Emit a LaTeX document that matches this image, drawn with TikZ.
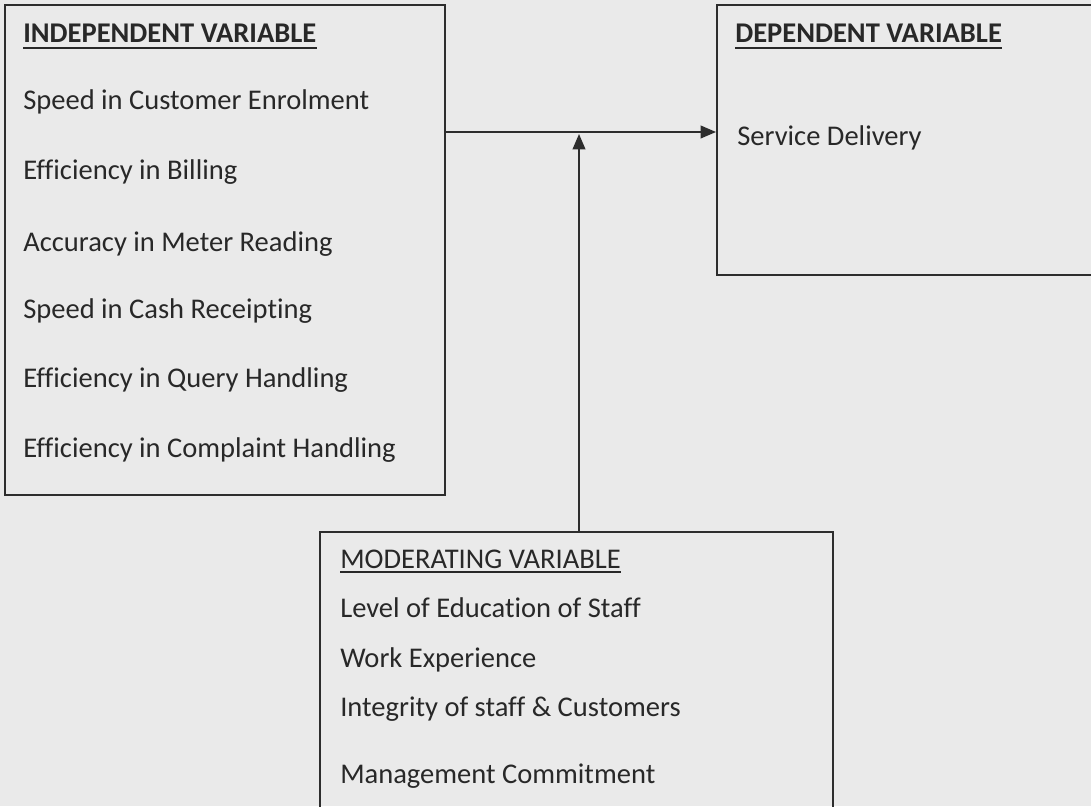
\documentclass[tikz,border=0pt]{standalone}
\usepackage{fontspec}
\setmainfont{Carlito}[Ligatures=NoCommon]
\usetikzlibrary{arrows.meta}
\definecolor{pagebg}{RGB}{234,234,234}
\definecolor{ink}{RGB}{40,40,40}
\definecolor{rule}{RGB}{45,45,45}
\begin{document}
\begin{tikzpicture}[x=0.75pt,y=-0.75pt,
  box/.style={draw=rule,line width=1.4pt,rectangle,inner sep=0pt,anchor=north west},
  item/.style={inner sep=0pt,anchor=base west,text=ink,font=\fontsize{21.4}{24}\selectfont},
  heading/.style={item,font=\fontsize{21.4}{24}\selectfont\bfseries},
  uline/.style={draw=ink,line width=1.2pt},
  conn/.style={draw=rule,line width=1.3pt,-{Triangle[length=11.5pt,width=9.5pt]}}]
  % page and frame
  \fill[pagebg] (0,0) rectangle (1091,806);
  \useasboundingbox (0,0) rectangle (1091,806);
  \clip (0,0) rectangle (1091,806);

  % the three variable boxes
  \node[box,minimum width=330pt,minimum height=367.5pt] (indep) at (4,4) {};
  \node[box,minimum width=288pt,minimum height=202.5pt] (dep) at (716,4) {};
  \node[box,minimum width=384.75pt,minimum height=216.75pt] (mod) at (319,531) {};

  % independent variable
  \node[heading] (ih) at (23,43) {INDEPENDENT VARIABLE};
  \draw[uline] ([yshift=-3.6pt]ih.base west) -- ([yshift=-3.6pt]ih.base east);
  \node[item] (i1) at (23,110) {Speed in Customer Enrolment};
  \node[item] (i2) at (23,180) {Efficiency in Billing};
  \node[item] (i3) at (23,251) {Accuracy in Meter Reading};
  \node[item] (i4) at (23,318) {Speed in Cash Receipting};
  \node[item] (i5) at (23,387) {Efficiency in Query Handling};
  \node[item] (i6) at (23,457) {Efficiency in Complaint Handling};

  % dependent variable
  \node[heading] (dh) at (735,43) {DEPENDENT VARIABLE};
  \draw[uline] ([yshift=-3.6pt]dh.base west) -- ([yshift=-3.6pt]dh.base east);
  \node[item] (d1) at (737,146) {Service Delivery};

  % moderating variable
  \node[item] (mh) at (340,568) {MODERATING VARIABLE};
  \draw[uline] ([yshift=-3.2pt]mh.base west) -- ([yshift=-3.2pt]mh.base east);
  \node[item] (m1) at (340,617) {Level of Education of Staff};
  \node[item] (m2) at (340,667) {Work Experience};
  \node[item] (m3) at (340,716) {Integrity of staff \& Customers};
  \node[item] (m4) at (340,783) {Management Commitment};

  % connectors
  \coordinate (hline) at (0,132);
  \coordinate (vtip) at (579,134);
  \draw[conn] (indep.east |- hline) -- (dep.west |- hline);
  \draw[conn] (mod.north -| vtip) -- (vtip);
\end{tikzpicture}
\end{document}
